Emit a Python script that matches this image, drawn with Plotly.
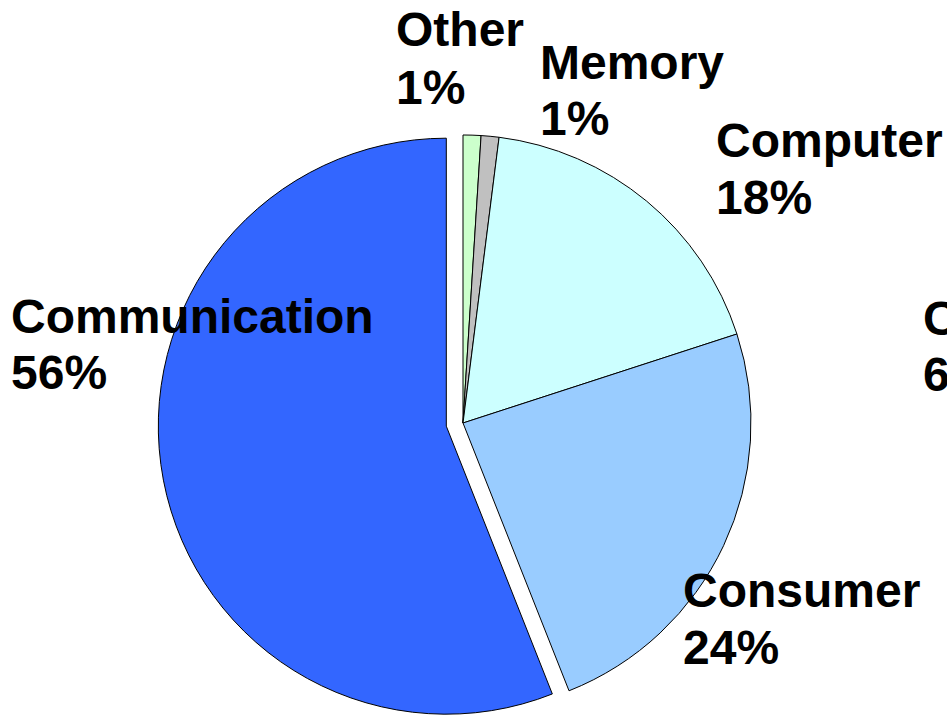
import plotly.graph_objects as go

W, H = 947, 719
FIG_H = 728  # figure slightly taller than window so the exploded pie keeps full size

labels = ["Other", "Memory", "Computer", "Consumer", "Communication"]
values = [1, 1, 18, 24, 56]
colors = ["#CCFFCC", "#C0C0C0", "#CCFFFF", "#99CCFF", "#3366FF"]
pulls = [0, 0, 0, 0, 0.059]

# label placement (pixel position of left edge / cap-centre of first line)
label_pos = {
    "Other": (394, 30),
    "Memory": (538, 62),
    "Computer": (714, 141),
    "Consumer": (681, 590),
    "Communication": (9, 316),
}
# partially visible label at the right edge
edge_lines = ["C", "6"]
edge_pos = (921, 318)
line_gap = 57
FS = 48
FONT = dict(family="Liberation Sans, Arial, sans-serif", size=FS, color="black")

fig = go.Figure(
    go.Pie(
        labels=labels,
        values=values,
        sort=False,
        direction="clockwise",
        rotation=0,
        pull=pulls,
        marker=dict(colors=colors, line=dict(color="black", width=1)),
        textinfo="none",
        domain=dict(x=[158 / W, 768 / W], y=[0, 610 / FIG_H]),
        showlegend=False,
    )
)

ann = []


def add_line(text, px, py):
    ann.append(
        dict(
            text=f"<b>{text}</b>",
            x=px / W,
            y=1 - py / FIG_H,
            xref="paper",
            yref="paper",
            xanchor="left",
            yanchor="middle",
            showarrow=False,
            font=FONT,
        )
    )


for lab, val in zip(labels, values):
    px, py = label_pos[lab]
    add_line(lab, px, py)
    add_line(f"{val}%", px, py + line_gap)

for i, t in enumerate(edge_lines):
    add_line(t, edge_pos[0], edge_pos[1] + i * line_gap)

fig.update_layout(
    width=W,
    height=FIG_H,
    margin=dict(l=0, r=0, t=0, b=0),
    paper_bgcolor="white",
    plot_bgcolor="white",
    annotations=ann,
)

fig.write_html(
    "out.html",
    config={"displayModeBar": False},
    post_script="document.body.style.margin='0';document.body.style.overflow='hidden';",
)
